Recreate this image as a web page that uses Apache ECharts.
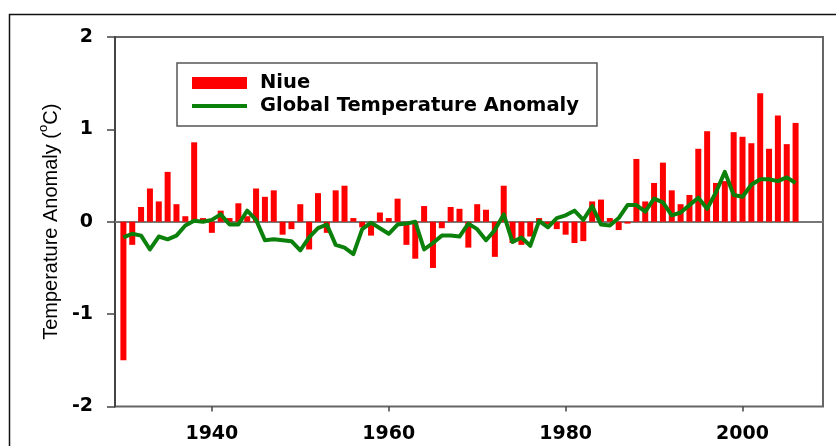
<!DOCTYPE html>
<html>
<head>
<meta charset="utf-8">
<script src="https://cdn.jsdelivr.net/npm/echarts@6/dist/echarts.min.js"></script>
<style>
html,body{margin:0;padding:0;background:#fff;}
#chart{width:836px;height:446px;}
</style>
</head>
<body>
<div id="chart"></div>
<script>
var years = [1930,1931,1932,1933,1934,1935,1936,1937,1938,1939,
  1940,1941,1942,1943,1944,1945,1946,1947,1948,1949,
  1950,1951,1952,1953,1954,1955,1956,1957,1958,1959,
  1960,1961,1962,1963,1964,1965,1966,1967,1968,1969,
  1970,1971,1972,1973,1974,1975,1976,1977,1978,1979,
  1980,1981,1982,1983,1984,1985,1986,1987,1988,1989,
  1990,1991,1992,1993,1994,1995,1996,1997,1998,1999,
  2000,2001,2002,2003,2004,2005,2006];

var niue = [-1.50,-0.25,0.16,0.36,0.22,0.54,0.19,0.06,0.86,0.04,
  -0.12,0.12,0.04,0.20,0.06,0.36,0.27,0.34,-0.14,-0.08,
  0.19,-0.30,0.31,-0.12,0.34,0.39,0.04,-0.06,-0.15,0.10,
  0.04,0.25,-0.25,-0.40,0.17,-0.50,-0.07,0.16,0.14,-0.28,
  0.19,0.13,-0.38,0.39,-0.23,-0.25,-0.16,0.04,-0.03,-0.08,
  -0.14,-0.23,-0.21,0.22,0.24,0.04,-0.09,-0.02,0.68,0.22,
  0.42,0.64,0.34,0.19,0.29,0.79,0.98,0.42,0.44,0.97,
  0.92,0.85,1.39,0.79,1.15,0.84,1.07];

var globalAnom = [-0.17,-0.13,-0.15,-0.30,-0.16,-0.19,-0.15,-0.04,0.01,0.00,
  0.02,0.08,-0.03,-0.03,0.12,0.02,-0.20,-0.19,-0.20,-0.21,
  -0.31,-0.17,-0.07,-0.03,-0.25,-0.28,-0.35,-0.08,-0.01,-0.07,
  -0.13,-0.03,-0.02,0.00,-0.30,-0.23,-0.15,-0.15,-0.16,-0.02,
  -0.08,-0.20,-0.09,0.08,-0.22,-0.17,-0.26,0.01,-0.06,0.04,
  0.07,0.12,0.02,0.17,-0.03,-0.04,0.04,0.18,0.18,0.11,
  0.25,0.21,0.07,0.10,0.18,0.26,0.14,0.32,0.54,0.29,
  0.27,0.40,0.46,0.46,0.44,0.48,0.42];

var xTickValues = [1940, 1960, 1980, 2000];
var seriesNames = ['Niue', 'Global Temperature Anomaly'];
var yAxisTitle = '{a|Temperature Anomaly (}{b|o}{a|C)}';

var niueData = years.map(function (y, i) { return [y, niue[i]]; });
var globalData = years.map(function (y, i) { return [y, globalAnom[i]]; });

var chart = echarts.init(document.getElementById('chart'), null, {renderer: 'canvas'});
var boldFont = 'DejaVu Sans';

chart.setOption({
  animation: false,
  backgroundColor: '#ffffff',
  grid: {
    left: 115, right: 13, top: 37, bottom: 39.5,
    show: true, borderColor: '#666', borderWidth: 2, backgroundColor: 'transparent'
  },
  graphic: [{
    type: 'polyline',
    shape: { points: [[9.5, 446], [9.5, 14.5], [836, 14.5]] },
    style: { stroke: '#111', lineWidth: 1.5, fill: null },
    silent: true
  }],
  legend: {
    orient: 'vertical',
    left: 177, top: 63,
    padding: [10, 18, 10, 13],
    itemGap: 3,
    itemWidth: 55, itemHeight: 12,
    borderColor: '#555', borderWidth: 1.5,
    backgroundColor: '#fff',
    textStyle: { fontFamily: boldFont, fontWeight: 'bold', fontSize: 19.5, color: '#000', padding: [0, 0, 0, 8] },
    data: [
      { name: seriesNames[0], icon: 'rect' },
      { name: seriesNames[1], itemStyle: { opacity: 0 }, lineStyle: { color: '#0b800b', width: 4, opacity: 1 } }
    ]
  },
  xAxis: {
    type: 'value',
    min: 1929.05, max: 2009.1,
    axisLine: { show: false, onZero: false },
    splitLine: { show: false },
    axisTick: { show: true, inside: false, customValues: xTickValues, length: 5, lineStyle: { color: '#444', width: 1.5 } },
    axisLabel: {
      customValues: xTickValues,
      formatter: function (v) { return String(v); },
      fontFamily: boldFont, fontWeight: 'bold', fontSize: 19, color: '#000', margin: 18
    }
  },
  yAxis: {
    type: 'value',
    min: -2, max: 2, interval: 1,
    splitLine: { show: false },
    axisLine: { show: true, onZero: false, lineStyle: { color: '#444', width: 2 } },
    axisTick: { show: true, inside: false, length: 8, lineStyle: { color: '#444', width: 1.5 } },
    axisLabel: { fontFamily: boldFont, fontWeight: 'bold', fontSize: 19, color: '#000', margin: 22 },
    name: yAxisTitle,
    nameLocation: 'middle',
    nameRotate: 90,
    nameGap: 52,
    nameTextStyle: {
      rich: {
        a: { fontFamily: 'Liberation Sans', fontSize: 20, color: '#000', lineHeight: 24, verticalAlign: 'bottom' },
        b: { fontFamily: 'Liberation Sans', fontSize: 13, color: '#000', lineHeight: 24, verticalAlign: 'top' }
      }
    }
  },
  series: [
    {
      name: seriesNames[0],
      type: 'bar',
      data: niueData,
      barWidth: 6,
      itemStyle: { color: '#ff0000' },
      markLine: {
        silent: true,
        symbol: 'none',
        label: { show: false },
        lineStyle: { color: '#777', width: 2, type: 'solid' },
        data: [{ yAxis: 0 }],
        z: 1
      }
    },
    {
      name: seriesNames[1],
      type: 'line',
      data: globalData,
      symbol: 'none',
      showSymbol: false,
      lineStyle: { color: '#0b800b', width: 4, join: 'round' },
      itemStyle: { color: '#0b800b' },
      z: 5
    }
  ]
});
</script>
</body>
</html>
